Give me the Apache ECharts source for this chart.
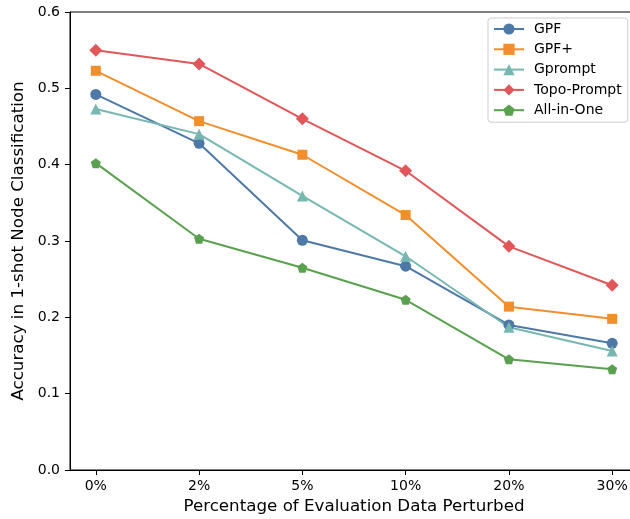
<!doctype html>
<html>
<head>
<meta charset="utf-8">
<script src="https://cdn.jsdelivr.net/npm/echarts@6/dist/echarts.min.js"></script>
</head>
<body style="margin:0;overflow:hidden">
<div id="main" style="width:645px;height:519px;"></div>
<script>
var categories = ['0%', '2%', '5%', '10%', '20%', '30%'];
var gpf = [0.492, 0.428, 0.301, 0.267, 0.190, 0.166];
var gpfPlus = [0.523, 0.457, 0.413, 0.334, 0.214, 0.198];
var gprompt = [0.473, 0.440, 0.359, 0.280, 0.187, 0.156];
var topoPrompt = [0.550, 0.532, 0.460, 0.392, 0.293, 0.242];
var allInOne = [0.402, 0.303, 0.265, 0.223, 0.145, 0.132];

var pentagon = 'path://M0,-1 L0.951,-0.309 L0.588,0.809 L-0.588,0.809 L-0.951,-0.309 Z';
var font = 'DejaVu Sans';

function pts(arr) {
	return arr.map(function (v, i) { return [i, v]; });
}
function line(name, data, color, symbol, size) {
	return {
		name: name,
		type: 'line',
		data: pts(data),
		symbol: symbol,
		symbolSize: size,
		showAllSymbol: true,
		itemStyle: { color: color },
		lineStyle: { color: color, width: 2 },
		emphasis: { disabled: true },
		z: 3
	};
}

var chart = echarts.init(document.getElementById('main'));
chart.setOption({
	animation: false,
	textStyle: { fontFamily: font },
	grid: {
		left: 70, top: 12, width: 568, height: 458,
		outerBoundsMode: 'none',
		show: true, borderColor: '#000', borderWidth: 1
	},
	legend: {
		orient: 'vertical',
		left: 488, top: 18,
		itemWidth: 30, itemHeight: 14, itemGap: 6.3,
		padding: [4, 6, 5, 5],
		borderColor: '#ccc', borderWidth: 1, borderRadius: 3,
		backgroundColor: 'rgba(255,255,255,0.8)',
		textStyle: { fontFamily: font, fontSize: 14, color: '#000', padding: [0, 0, 0, 5] },
		data: ['GPF', 'GPF+', 'Gprompt', 'Topo-Prompt', 'All-in-One']
	},
	xAxis: {
		type: 'value',
		min: -0.25, max: 5.25,
		name: 'Percentage of Evaluation Data Perturbed',
		nameLocation: 'middle', nameGap: 28,
		nameTextStyle: { fontFamily: font, fontSize: 16.7, color: '#000' },
		axisLine: { onZero: false, lineStyle: { color: '#000', width: 1 } },
		axisTick: { customValues: [0, 1, 2, 3, 4, 5], length: 5, lineStyle: { color: '#000' } },
		axisLabel: {
			customValues: [0, 1, 2, 3, 4, 5],
			formatter: function (v) { return categories[Math.round(v)]; },
			fontFamily: font, fontSize: 14, color: '#000', margin: 9
		},
		splitLine: { show: false }
	},
	yAxis: {
		type: 'value',
		min: 0, max: 0.6, interval: 0.1,
		name: 'Accuracy in 1-shot Node Classification',
		nameLocation: 'middle', nameGap: 40,
		nameTextStyle: { fontFamily: font, fontSize: 16.7, color: '#000' },
		axisLine: { show: true, onZero: false, lineStyle: { color: '#000', width: 1 } },
		axisTick: { show: true, length: 5, lineStyle: { color: '#000' } },
		axisLabel: {
			formatter: function (v) { return v.toFixed(1); },
			fontFamily: font, fontSize: 14, color: '#000', margin: 10
		},
		splitLine: { show: false }
	},
	series: [
		line('GPF', gpf, '#4e79a7', 'circle', 11),
		line('GPF+', gpfPlus, '#f28e2b', 'rect', 10),
		line('Gprompt', gprompt, '#76b7b2', 'triangle', 11),
		line('Topo-Prompt', topoPrompt, '#e15759', 'diamond', 13),
		line('All-in-One', allInOne, '#59a14f', pentagon, 10)
	]
});
</script>
</body>
</html>
